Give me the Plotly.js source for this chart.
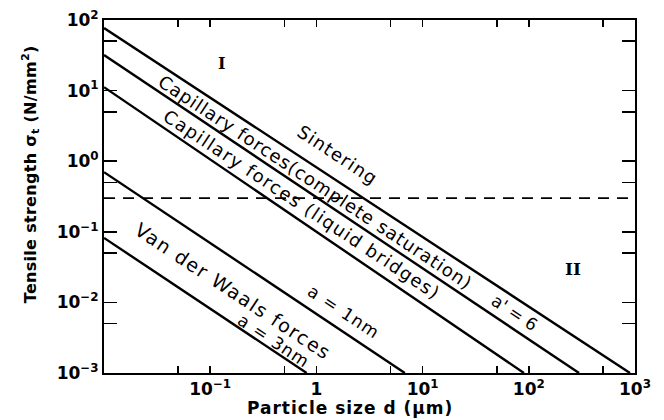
<!DOCTYPE html>
<html>
<head>
<meta charset="utf-8">
<script src="https://cdn.plot.ly/plotly-3.0.1.min.js"></script>
<style>
  html, body { margin: 0; padding: 0; background: #fff; }
  #chart { width: 664px; height: 420px; }
</style>
</head>
<body>
<div id="chart"></div>
<script>
// Boundary lines of tensile strength vs particle size (log-log), endpoints of each line
const lineNames = [
  'Sintering / capillary (complete saturation)',
  'Capillary (complete saturation) / liquid bridges',
  'Capillary forces (liquid bridges)',
  'Van der Waals, a = 1nm',
  'Van der Waals, a = 3nm'
];
const dStart = [0.01, 0.01, 0.01, 0.01, 0.01];      // particle size d (µm)
const dEnd = [897, 297, 90, 6.8, 0.81];
const sigmaStart = [77, 31.9, 11.2, 0.70, 0.082];  // tensile strength (N/mm²)
const sigmaEnd = [0.001, 0.001, 0.001, 0.001, 0.001];

// Horizontal dashed separation between region I and II
const dashD = [0.01, 1000];
const dashSigma = [0.3, 0.3];

// Axis ticks
const xTickVals = [0.1, 1, 10, 100, 1000];
const xTickText = ['10<sup>−1</sup>', '1', '10<sup>1</sup>', '10<sup>2</sup>', '10<sup>3</sup>'];
const xMinorVals = [0.05, 0.5, 5, 50, 500];
const yTickVals = [0.001, 0.01, 0.1, 1, 10, 100];
const yTickText = ['10<sup>−3</sup>', '10<sup>−2</sup>', '10<sup>−1</sup>', '10<sup>0</sup>', '10<sup>1</sup>', '10<sup>2</sup>'];
const yMinorVals = [0.005, 0.05, 0.5, 5, 50];

const FONT = 'DejaVu Sans, Verdana, sans-serif';

const traces = lineNames.map((name, i) => ({
  type: 'scatter',
  mode: 'lines',
  name: name,
  x: [dStart[i], dEnd[i]],
  y: [sigmaStart[i], sigmaEnd[i]],
  line: { color: '#000', width: 2.4 },
  hoverinfo: 'skip'
}));
traces.push({
  type: 'scatter',
  mode: 'lines',
  name: 'boundary',
  x: dashD,
  y: dashSigma,
  line: { color: '#000', width: 1.6, dash: '11px,8px' },
  hoverinfo: 'skip'
});

// Labels along the lines; annotation coordinates on log axes are log10 values.
// The extra letter spacing (px) per label is applied to the SVG text after plotting.
const ANG = 33.5;
const spacing = [];
function label(text, lx, ly, size, angle, space, extra) {
  spacing.push(space);
  return Object.assign({
    text: text, x: lx, y: ly, xref: 'x', yref: 'y',
    showarrow: false, textangle: angle,
    xanchor: 'center', yanchor: 'middle',
    font: { family: FONT, size: size, color: '#000' }
  }, extra || {});
}

const annotations = [
  label('Sintering', 0.194, 0.088, 18, ANG, 1.2),
  label('Capillary forces(complete saturation)', -0.004, -0.295, 18, ANG, 1.0),
  label("a' = 6", 1.870, -2.150, 17, ANG, 0),
  label('Capillary forces (liquid bridges)', -0.136, -0.620, 18, ANG, 1.4),
  label('a = 1nm', 0.260, -2.136, 17, ANG, 1.2),
  label('Van der Waals forces', -0.785, -1.838, 19, ANG, 1.6),
  label('a = 3nm', -0.399, -2.547, 17, ANG, 1.2),
  label('I', -0.889, 1.391, 16, 0, 0, { font: { family: 'DejaVu Serif, serif', size: 16, color: '#000', weight: 'bold' } }),
  label('II', 2.416, -1.527, 17, 0, 0, { font: { family: 'DejaVu Serif, serif', size: 17, color: '#000', weight: 'bold' } }),
  label('Particle size d (μm)', 0.463, -0.099, 17, 0, 1.0, {
    xref: 'paper', yref: 'paper',
    font: { family: FONT, size: 17, color: '#000', weight: 'bold' }
  }),
  label('Tensile strength σ<sub>t</sub> (N/mm<sup>2</sup>)', -0.137, 0.564, 16, -90, 0.3, {
    xref: 'paper', yref: 'paper',
    font: { family: FONT, size: 16, color: '#000', weight: 'bold' }
  })
];

const tickFont = { family: FONT, size: 17, color: '#000', weight: 'bold' };

const layout = {
  width: 664,
  height: 420,
  margin: { l: 104, r: 29, t: 20, b: 47, pad: 0 },
  paper_bgcolor: '#fff',
  plot_bgcolor: '#fff',
  showlegend: false,
  font: { family: FONT, size: 17, color: '#000' },
  xaxis: {
    type: 'log',
    range: [-2, 3],
    tickmode: 'array',
    tickvals: xTickVals,
    ticktext: xTickText,
    ticks: 'inside',
    ticklen: 7,
    tickwidth: 1.6,
    tickcolor: '#000',
    minor: { tickvals: xMinorVals, ticks: 'inside', ticklen: 7, tickwidth: 1.6, tickcolor: '#000', showgrid: false },
    showline: true,
    linewidth: 2,
    linecolor: '#000',
    mirror: 'ticks',
    showgrid: false,
    zeroline: false,
    tickfont: tickFont
  },
  yaxis: {
    type: 'log',
    range: [-3, 2],
    tickmode: 'array',
    tickvals: yTickVals,
    ticktext: yTickText,
    ticks: 'inside',
    ticklen: 13,
    tickwidth: 1.6,
    tickcolor: '#000',
    minor: { tickvals: yMinorVals, ticks: 'inside', ticklen: 13, tickwidth: 1.6, tickcolor: '#000', showgrid: false },
    showline: true,
    linewidth: 2,
    linecolor: '#000',
    mirror: 'ticks',
    showgrid: false,
    zeroline: false,
    tickfont: tickFont
  },
  annotations: annotations
};

Plotly.newPlot('chart', traces, layout, { staticPlot: true, displayModeBar: false }).then(gd => {
  gd.querySelectorAll('g.annotation').forEach(g => {
    const idx = +g.getAttribute('data-index');
    const t = g.querySelector('text.annotation-text');
    if (t && spacing[idx]) t.setAttribute('letter-spacing', spacing[idx] + 'px');
  });
});
</script>
</body>
</html>
